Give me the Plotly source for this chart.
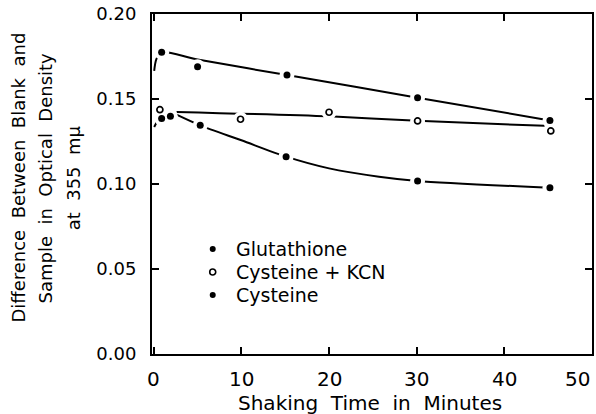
import plotly.graph_objects as go

# ---- data ----
glut_x = [0.9, 5.0, 15.2, 30.1, 45.2]
glut_y = [0.1775, 0.1690, 0.1641, 0.1508, 0.1374]

kcn_x = [0.7, 9.9, 20.0, 30.1, 45.3]
kcn_y = [0.1437, 0.1381, 0.1422, 0.1371, 0.1312]

cys_x = [0.9, 1.9, 5.3, 15.1, 30.1, 45.2]
cys_y = [0.1386, 0.1398, 0.1345, 0.1161, 0.1018, 0.0978]

# hand-drawn fitted curves
glut_fit_x = [0.05, 0.3, 0.9, 5.0, 15.2, 30.1, 45.2]
glut_fit_y = [0.1665, 0.1735, 0.1775, 0.1732, 0.1641, 0.1508, 0.1374]

kcn_fit_x = [2.6, 20.0, 30.1, 44.6]
kcn_fit_y = [0.1424, 0.1398, 0.1372, 0.1342]

cys_fit_x = [0.05, 0.35, None, 2.6, 5.3, 10.0, 15.1, 20.0, 25.7, 30.1, 45.2]
cys_fit_y = [0.1335, 0.1365, None, 0.1408, 0.1345, 0.1257, 0.1161, 0.1092, 0.1043, 0.1018, 0.0978]

x_ticks = [0, 10, 20, 30, 40, 50]
x_tick_labels = ["0", "10", "20", "30", "40", "50"]
y_ticks = [0.00, 0.05, 0.10, 0.15, 0.20]
y_tick_labels = ["0.00", "0.05", "0.10", "0.15", "0.20"]

series_names = ["Glutathione", "Cysteine + KCN", "Cysteine"]
series_filled = [True, False, True]
y_title_lines = ["Difference  Between  Blank  and", "Sample  in  Optical  Density", "at  355  m\u03bc"]
x_title = "Shaking  Time  in  Minutes"

FONT = "DejaVu Sans"
W, H = 596, 414
L, R, T, B = 152, 2, 14, 60
PW, PH = W - L - R, H - T - B


def px_x(p):
    return (p - L) / PW


def px_y(p):
    return (H - B - p) / PH


fig = go.Figure()

# fitted lines
for fx, fy in [(glut_fit_x, glut_fit_y), (kcn_fit_x, kcn_fit_y), (cys_fit_x, cys_fit_y)]:
    fig.add_trace(go.Scatter(x=fx, y=fy, mode="lines", line=dict(color="black", width=2, shape="spline", smoothing=0.8),
                             showlegend=False, hoverinfo="skip", connectgaps=False))

# white halos to make gaps in lines around points
for sx, sy in [(glut_x, glut_y), (kcn_x, kcn_y), (cys_x, cys_y)]:
    fig.add_trace(go.Scatter(x=sx, y=sy, mode="markers", marker=dict(color="white", size=15, line=dict(width=0)),
                             showlegend=False, hoverinfo="skip"))

fig.add_trace(go.Scatter(x=glut_x, y=glut_y, mode="markers", name=series_names[0], showlegend=False,
                         marker=dict(color="black", size=7, line=dict(width=0))))
fig.add_trace(go.Scatter(x=kcn_x, y=kcn_y, mode="markers", name=series_names[1], showlegend=False,
                         marker=dict(color="white", size=6, line=dict(color="black", width=1.7))))
fig.add_trace(go.Scatter(x=cys_x, y=cys_y, mode="markers", name=series_names[2], showlegend=False,
                         marker=dict(color="black", size=7, line=dict(width=0))))

annotations = []
shapes = []
for v, lab in zip(x_ticks, x_tick_labels):
    annotations.append(dict(x=v, y=px_y(379), xref="x", yref="paper", text=lab, showarrow=False,
                            xanchor="right" if v == x_ticks[-1] else "center", yanchor="middle",
                            font=dict(family=FONT, size=20, color="black")))
annotations.append(dict(x=px_x(371), y=px_y(403), xref="paper", yref="paper", text=x_title, showarrow=False,
                        xanchor="center", yanchor="middle", font=dict(family=FONT, size=20, color="black")))
for i, line in enumerate(y_title_lines):
    annotations.append(dict(x=px_x(18 + i * 28), y=px_y(178), xref="paper", yref="paper", text=line,
                            showarrow=False, textangle=-90, xanchor="center", yanchor="middle",
                            font=dict(family=FONT, size=18, color="black")))

# legend (key)
for i, (name, filled) in enumerate(zip(series_names, series_filled)):
    yc = px_y(249 + 23 * i)
    annotations.append(dict(x=px_x(234), y=yc, xref="paper", yref="paper", text=name, showarrow=False,
                            xanchor="left", yanchor="middle", font=dict(family=FONT, size=19, color="black")))
    r = 3
    shapes.append(dict(type="circle", xref="paper", yref="paper", xsizemode="pixel", ysizemode="pixel",
                       xanchor=px_x(213), yanchor=yc, x0=-r, x1=r, y0=-r, y1=r,
                       fillcolor="black" if filled else "white",
                       line=dict(color="black", width=0 if filled else 1.6)))

fig.update_layout(
    width=W, height=H,
    margin=dict(l=L, r=R, t=T, b=B, pad=0),
    paper_bgcolor="white", plot_bgcolor="white",
    font=dict(family=FONT, size=18, color="black"),
    showlegend=False,
    annotations=annotations,
    shapes=shapes,
)
fig.update_xaxes(range=[-0.2, 50], tickvals=x_ticks, showticklabels=False, ticks="inside", ticklen=7,
                 tickwidth=2, tickcolor="black", showline=True, linecolor="black", linewidth=2, mirror="ticks",
                 showgrid=False, zeroline=False)
fig.update_yaxes(range=[0, 0.2], tickvals=y_ticks, ticktext=y_tick_labels, ticks="inside", ticklen=7,
                 tickwidth=2, tickcolor="black", showline=True, linecolor="black", linewidth=2, mirror="ticks",
                 showgrid=False, zeroline=False, ticklabelstandoff=10,
                 tickfont=dict(family=FONT, size=18, color="black"))

fig.write_html("out.html")
